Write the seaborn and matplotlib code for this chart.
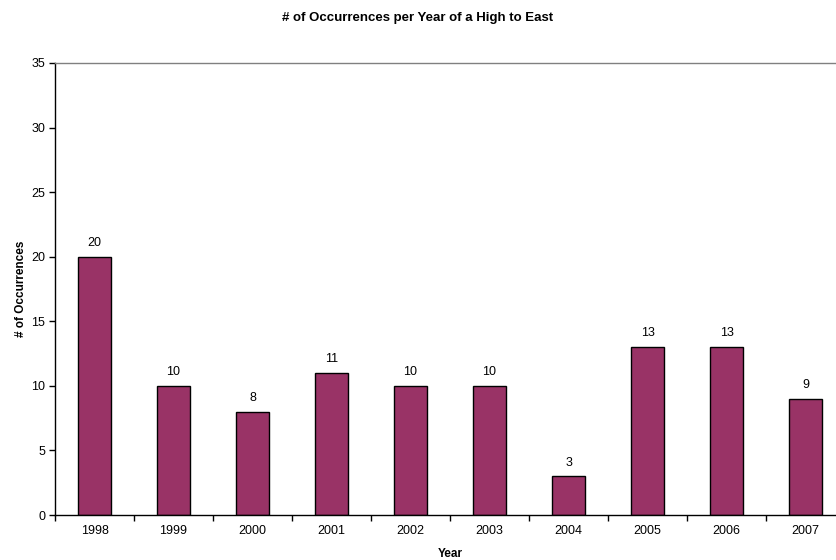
import matplotlib
matplotlib.use("Agg")
import matplotlib.pyplot as plt
import seaborn as sns
import pandas as pd
import numpy as np

years = ["1998", "1999", "2000", "2001", "2002", "2003", "2004", "2005", "2006", "2007"]
counts = [20, 10, 8, 11, 10, 10, 3, 13, 13, 9]

sns.set_theme(style="white")
plt.rcParams['font.family'] = ['Liberation Sans', 'DejaVu Sans']
plt.rcParams['text.color'] = 'black'
plt.rcParams['axes.labelcolor'] = 'black'
plt.rcParams['xtick.color'] = 'black'
plt.rcParams['ytick.color'] = 'black'

df = pd.DataFrame({"Year": years, "Count": counts})

fig = plt.figure(figsize=(8.36, 5.6), dpi=100)
ax = fig.add_axes([55/836, 45/560, (845-55)/836, (515-63)/560])

sns.barplot(data=df, x="Year", y="Count", color="#993366", saturation=1,
            width=0.41, edgecolor="black", linewidth=1.0, ax=ax)

for i, v in enumerate(counts):
    ax.text(i, v + 0.6, str(v), ha="center", va="bottom", fontsize=9, color="black")

ax.set_ylim(0, 35)
ax.set_xlim(-0.5, len(years) - 0.5)
ax.set_yticks(np.arange(0, 36, 5))
ax.tick_params(axis="y", which="major", direction="out", length=4, width=1,
               color="black", labelcolor="black", labelsize=9, pad=3, left=True)
ax.tick_params(axis="x", which="major", length=0, labelsize=9, labelcolor="black", pad=7)
ax.set_xticks(np.arange(-0.5, len(years), 1), minor=True)
ax.tick_params(axis="x", which="minor", direction="out", length=4, width=1,
               color="black", bottom=True)

ax.spines["right"].set_visible(False)
ax.spines["top"].set_color("#808080")
ax.spines["top"].set_linewidth(1)
ax.spines["left"].set_color("black")
ax.spines["bottom"].set_color("black")
ax.spines["left"].set_linewidth(1)
ax.spines["bottom"].set_linewidth(1)

ax.set_xlabel("Year", fontsize=8.5, fontweight="bold", labelpad=8)
ax.set_ylabel("# of Occurrences", fontsize=8.5, fontweight="bold", labelpad=3)
fig.text(0.5, 1 - 18/560, "# of Occurrences per Year of a High to East",
         ha="center", va="center", fontsize=9.5, fontweight="bold")

fig.savefig("out.png", dpi=100)
